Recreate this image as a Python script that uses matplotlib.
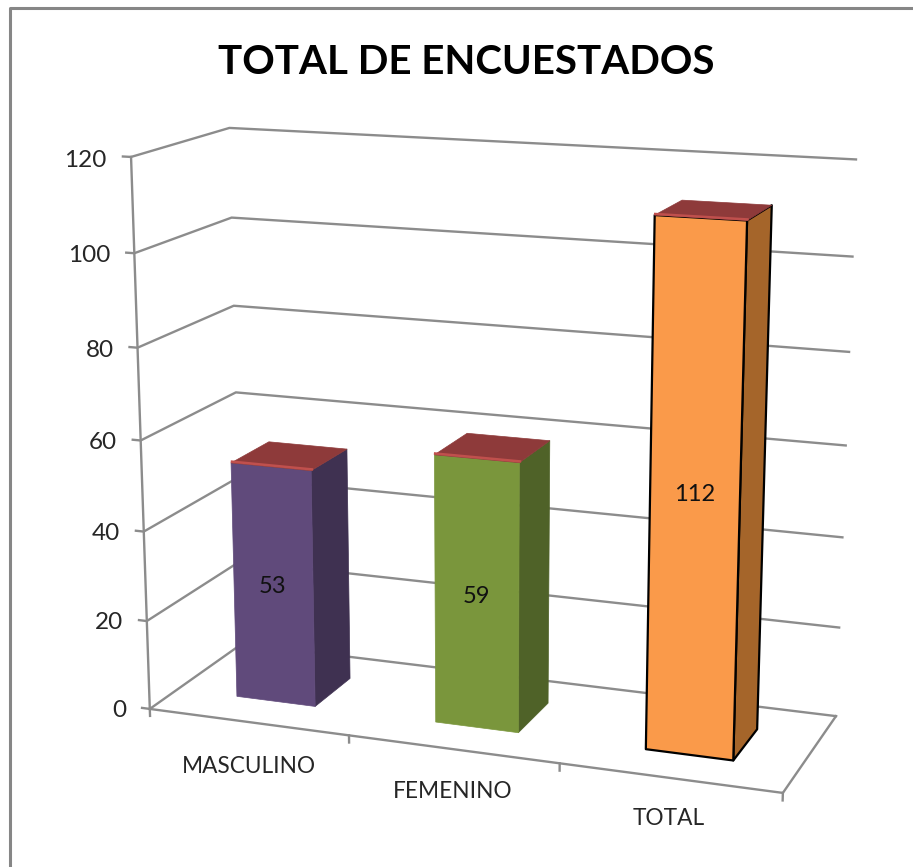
import numpy as np
import matplotlib
matplotlib.use("Agg")
import matplotlib.pyplot as plt
from matplotlib.lines import Line2D
from mpl_toolkits.mplot3d import proj3d
from mpl_toolkits.mplot3d.art3d import Poly3DCollection

plt.rcParams['font.family'] = ['Lato', 'DejaVu Sans']

# Chart data
categories = ["MASCULINO", "FEMENINO", "TOTAL"]
values = [53, 59, 112]
y_ticks = [0, 20, 40, 60, 80, 100, 120]

# Bar styles
front_colors = ["#604A7B", "#7A963C", "#FA9A4A"]
side_colors = ["#3F3151", "#4F6228", "#A5652A"]
edge_colors = [None, None, "#000000"]
top_color = "#8E3A3A"
bevel_color = "#C0504D"
grid_color = "#8C8C8C"
text_color = "#262626"
label_drop = [-9.6, -9.0, -8.3]

W, H = 913, 867
fig = plt.figure(figsize=(W / 100, H / 100), dpi=100, facecolor="white")
ax = fig.add_axes([0, 0, 1, 1], projection="3d", computed_zorder=False)
ax.set_axis_off()
ax.apply_aspect()

# Excel's 3D camera: pairs of (category, depth, value) and where they land in the picture
cam_world = [(0, 0, 0), (1, 0, 0), (2, 0, 0), (3, 0, 0), (3, 1, 0), (0, 1, 0),
             (0, 0, 60), (0, 1, 60), (3, 1, 60), (0, 0, 120), (0, 1, 120), (3, 1, 120)]
cam_pixels = [(151, 708), (349, 735), (559, 765), (783, 793), (836, 715), (241, 645),
              (141, 440), (236, 392), (846, 445), (130, 157), (230, 128), (856, 160)]


def fit_camera():
    pix = np.array(cam_pixels, dtype=float)
    pix[:, 1] = H - pix[:, 1]
    target = ax.transData.inverted().transform(pix)
    rows = []
    for (x, y, z), (u, v) in zip(cam_world, target):
        rows.append([x, y, z, 1, 0, 0, 0, 0, -u * x, -u * y, -u * z, -u])
        rows.append([0, 0, 0, 0, x, y, z, 1, -v * x, -v * y, -v * z, -v])
    p = np.linalg.svd(np.array(rows))[2][-1].reshape(3, 4)
    return np.array([p[0], p[1], [0, 1, 0, 0], p[2]])


M = fit_camera()
ax.get_proj = lambda: M
ax.M = M


def label(x, y, z, s, **kw):
    # 2D text placed at the projected 3D point
    px, py, _ = proj3d.proj_transform(x, y, z, M)
    ax.text2D(px, py, s, transform=ax.transData, zorder=10, clip_on=False, **kw)


# Walls and floor
lw_grid = 1.7
for t in y_ticks:
    ax.plot([-0.04, 0, 0, 3], [0, 0, 1, 1], [t, t, t, t], color=grid_color, lw=lw_grid, zorder=1)
    label(-0.12, 0, t - 0.5, str(t), ha="right", va="center_baseline", fontsize=17.5, color=text_color)
ax.plot([0, 0], [0, 0], [0, 120], color=grid_color, lw=lw_grid, zorder=1)
ax.plot([0, 3, 3], [0, 0, 1], [0, 0, 0], color=grid_color, lw=lw_grid, zorder=1)
for i in range(len(categories) + 1):
    ax.plot([i, i], [0, 0], [0, -1.6], color=grid_color, lw=lw_grid, zorder=1)

# Bars
x_gap = 0.3
y0, y1 = 0.3, 0.715
for i, (val, name) in enumerate(zip(values, categories)):
    x0, x1 = i + x_gap, i + 1 - x_gap
    front = [(x0, y0, 0), (x1, y0, 0), (x1, y0, val), (x0, y0, val)]
    side = [(x1, y0, 0), (x1, y1, 0), (x1, y1, val), (x1, y0, val)]
    top = [(x0, y0, val), (x1, y0, val), (x1, y1, val), (x0, y1, val)]
    ec = edge_colors[i]
    for face, fc, use_edge in [(side, side_colors[i], True), (front, front_colors[i], True), (top, top_color, False)]:
        line = ec if (ec and use_edge) else fc
        poly = Poly3DCollection([face], facecolors=fc, edgecolors=line, linewidths=1.6 if (ec and use_edge) else 0.5,
                                zorder=3 + i)
        ax.add_collection3d(poly, autolim=False)
    ax.plot([x0, x1], [y0 + 0.015, y0 + 0.015], [val, val], color=bevel_color, lw=1.8, zorder=3 + i)
    label((x0 + x1) / 2, y0, val / 2, str(val), ha="center", va="center_baseline", fontsize=17, color="#111111")
    label(i + 0.5, 0, label_drop[i], name, ha="center", va="center_baseline", fontsize=16.3, color=text_color)

# Chart area border, cut off on the right and at the bottom
fig.add_artist(Line2D([10 / W, 10 / W, 1], [0, 1 - 7.5 / H, 1 - 7.5 / H], color="#868686", lw=2.2))
fig.text(466 / W, 1 - 59 / H, "TOTAL DE ENCUESTADOS", ha="center", va="center_baseline",
         fontsize=29, fontweight="bold", color="black")

fig.savefig("out.png", dpi=100)
